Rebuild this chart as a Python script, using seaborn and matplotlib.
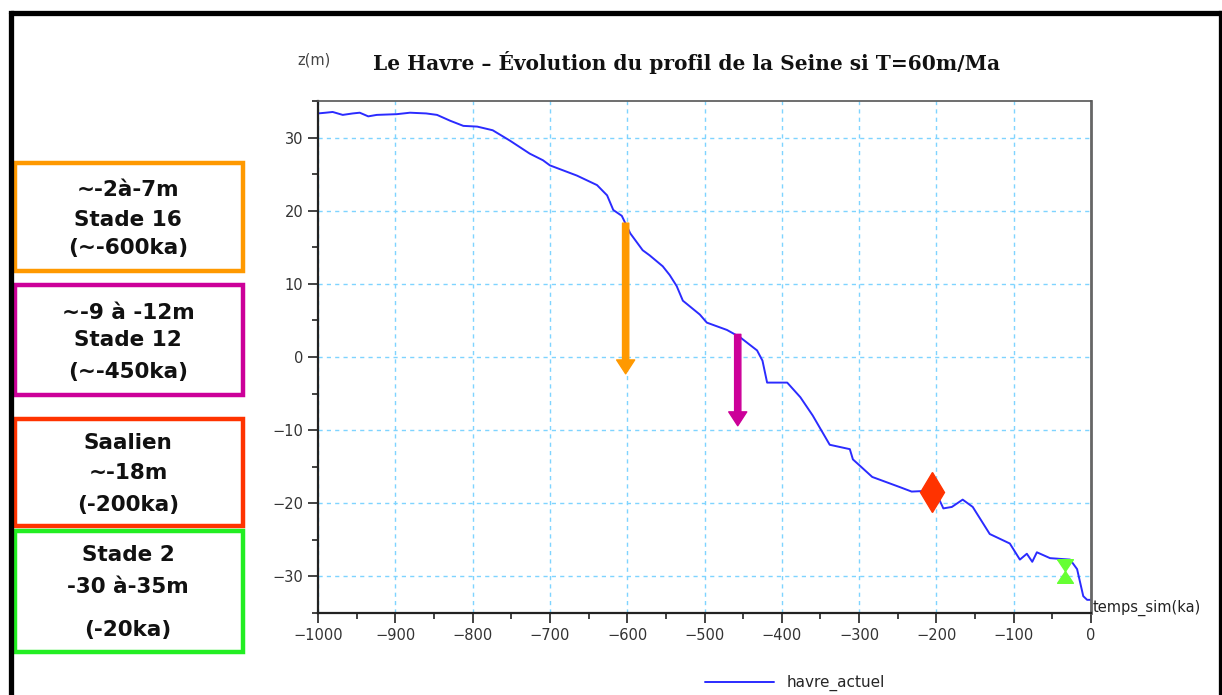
import numpy as np
import pandas as pd
import seaborn as sns
import matplotlib.pyplot as plt
from matplotlib.patches import Rectangle
from matplotlib.lines import Line2D
from matplotlib.ticker import MultipleLocator

# profil simule (temps en ka, altitude en m)
temps_ka = [-1000, -990, -981, -968, -955, -946, -935, -924, -898, -881, -860, -846,
            -829, -812, -794, -774, -752, -726, -709, -700, -665, -639, -626, -618,
            -607, -596, -580, -571, -554, -545, -536, -528, -506, -497, -471, -454,
            -432, -425, -419, -393, -376, -360, -338, -312, -308, -283, -247, -232,
            -212, -198, -191, -180, -166, -153, -131, -105, -92, -83, -76, -70,
            -53, -27, -18, -10, -5, 0]
z_m = [33.3, 33.4, 33.5, 33.1, 33.3, 33.4, 32.9, 33.1, 33.2, 33.4, 33.3, 33.1,
       32.3, 31.6, 31.5, 31.0, 29.6, 27.8, 26.9, 26.2, 24.8, 23.5, 22.1, 20.1,
       19.3, 16.9, 14.6, 13.9, 12.4, 11.2, 9.7, 7.7, 5.8, 4.7, 3.7, 2.7,
       0.9, -0.5, -3.5, -3.5, -5.5, -8.0, -12.0, -12.6, -14.0, -16.4, -17.8, -18.4,
       -18.3, -19.1, -20.7, -20.5, -19.5, -20.5, -24.2, -25.5, -27.7, -26.9, -28.0, -26.7,
       -27.5, -27.7, -29.0, -32.7, -33.2, -33.2]

# fleches (stades 16 et 12)
arrow_x = [-602, -457]
arrow_top = [18.3, 3.1]
arrow_bottom = [-2.3, -9.4]
arrow_colors = ['#FF9900', '#CC0099']

# Saalien et stade 2
saalien_x = [-206]
saalien_z = [-18.4]
stade2_x = [-34]
stade2_z = [-29.3]

box_lines = [["∼-2à-7m", "Stade 16", "(∼-600ka)"],
             ["∼-9 à -12m", "Stade 12", "(∼-450ka)"],
             ["Saalien", "∼-18m", "(-200ka)"],
             ["Stade 2", "-30 à-35m", "(-20ka)"]]
box_colors = ['#FF9900', '#CC0099', '#FF3300', '#22EE22']

df = pd.DataFrame({'temps_sim': temps_ka, 'z': z_m})

sns.set_style("white")
plt.rcParams['font.family'] = ['DejaVu Sans']

W, H = 1222, 695
fig = plt.figure(figsize=(W / 100, H / 100), dpi=100)
ax = fig.add_axes([318 / W, 1 - 613 / H, (1091 - 318) / W, (613 - 101) / H])

sns.lineplot(data=df, x='temps_sim', y='z', ax=ax, color='#2B2BFF', lw=1.4,
             label='havre_actuel', legend=False)

for x, t, b, c in zip(arrow_x, arrow_top, arrow_bottom, arrow_colors):
    ax.annotate('', xy=(x, b), xytext=(x, t),
                arrowprops=dict(facecolor=c, edgecolor=c, width=4.5, headwidth=13,
                                headlength=10, shrink=0))

ax.plot(saalien_x, saalien_z, marker='d', markersize=20, color='#FF3300', lw=0)
hourglass = [(-0.67, 1), (0.67, 1), (-0.67, -1), (0.67, -1), (-0.67, 1)]
ax.plot(stade2_x, stade2_z, marker=hourglass, markersize=17, color='#66FF33', lw=0)

ax.set_xlim(-1000, 0)
ax.set_ylim(-35, 35)
ax.xaxis.set_major_locator(MultipleLocator(100))
ax.xaxis.set_minor_locator(MultipleLocator(50))
ax.yaxis.set_major_locator(MultipleLocator(10))
ax.yaxis.set_minor_locator(MultipleLocator(5))
ax.grid(True, which='major', color='#7FD4FF', linestyle=(0, (3, 3)), lw=1)
ax.tick_params(which='major', length=7, width=1.2, color='#222222',
               labelsize=10.5, labelcolor='#333333', bottom=True, left=True)
ax.tick_params(which='minor', length=4, width=1.2, color='#222222', bottom=True, left=True)
ax.set_xlabel('')
ax.set_ylabel('')
for s in ['left', 'bottom']:
    ax.spines[s].set_color('#222222')
    ax.spines[s].set_linewidth(1.6)
ax.spines['top'].set_color('#555555')
ax.spines['top'].set_linewidth(1.2)
ax.spines['right'].set_color('#666666')
ax.spines['right'].set_linewidth(2)

fig.text(687 / W, 1 - 62 / H, "Le Havre – Évolution du profil de la Seine si T=60m/Ma",
         ha='center', va='center', fontsize=14.5, fontweight='bold', family='DejaVu Serif',
         color='#111111')
fig.text(314 / W, 1 - 60 / H, "z(m)", ha='center', va='center', fontsize=10.5, color='#444444')
fig.text(1093 / W, 1 - 608 / H, "temps_sim(ka)", ha='left', va='center', fontsize=10.5,
         color='#222222')

handles, labels = ax.get_legend_handles_labels()
fig.legend(handles, labels, loc='center', bbox_to_anchor=(795 / W, 1 - 683 / H),
           frameon=False, fontsize=11, handlelength=4.5, borderpad=0.1)

# cadres de gauche
box_y = [(163, 271), (285, 395), (419, 526), (531, 652)]
line_y = [[190, 220, 248], [313, 340, 372], [443, 473, 505], [555, 587, 630]]
for (y0, y1), c, lines, ly in zip(box_y, box_colors, box_lines, line_y):
    fig.patches.append(Rectangle((15 / W, 1 - y1 / H), (243 - 15) / W, (y1 - y0) / H,
                                 transform=fig.transFigure, fill=False, edgecolor=c, lw=3.2))
    for txt, yy in zip(lines, ly):
        fig.text(128 / W, 1 - yy / H, txt, ha='center', va='center', fontsize=15.5,
                 fontweight='bold', color='#111111')

# cadre noir
fig.lines.append(Line2D([10.5 / W, 10.5 / W], [0, 1 - 12.5 / H], transform=fig.transFigure,
                        color='black', lw=3.8, solid_capstyle='projecting'))
fig.lines.append(Line2D([10.5 / W, 1220.5 / W], [1 - 12.5 / H, 1 - 12.5 / H],
                        transform=fig.transFigure, color='black', lw=3.8))
fig.lines.append(Line2D([1220.5 / W, 1220.5 / W], [0, 1 - 12.5 / H], transform=fig.transFigure,
                        color='black', lw=3.8, solid_capstyle='projecting'))

fig.savefig('out.png', dpi=100)
